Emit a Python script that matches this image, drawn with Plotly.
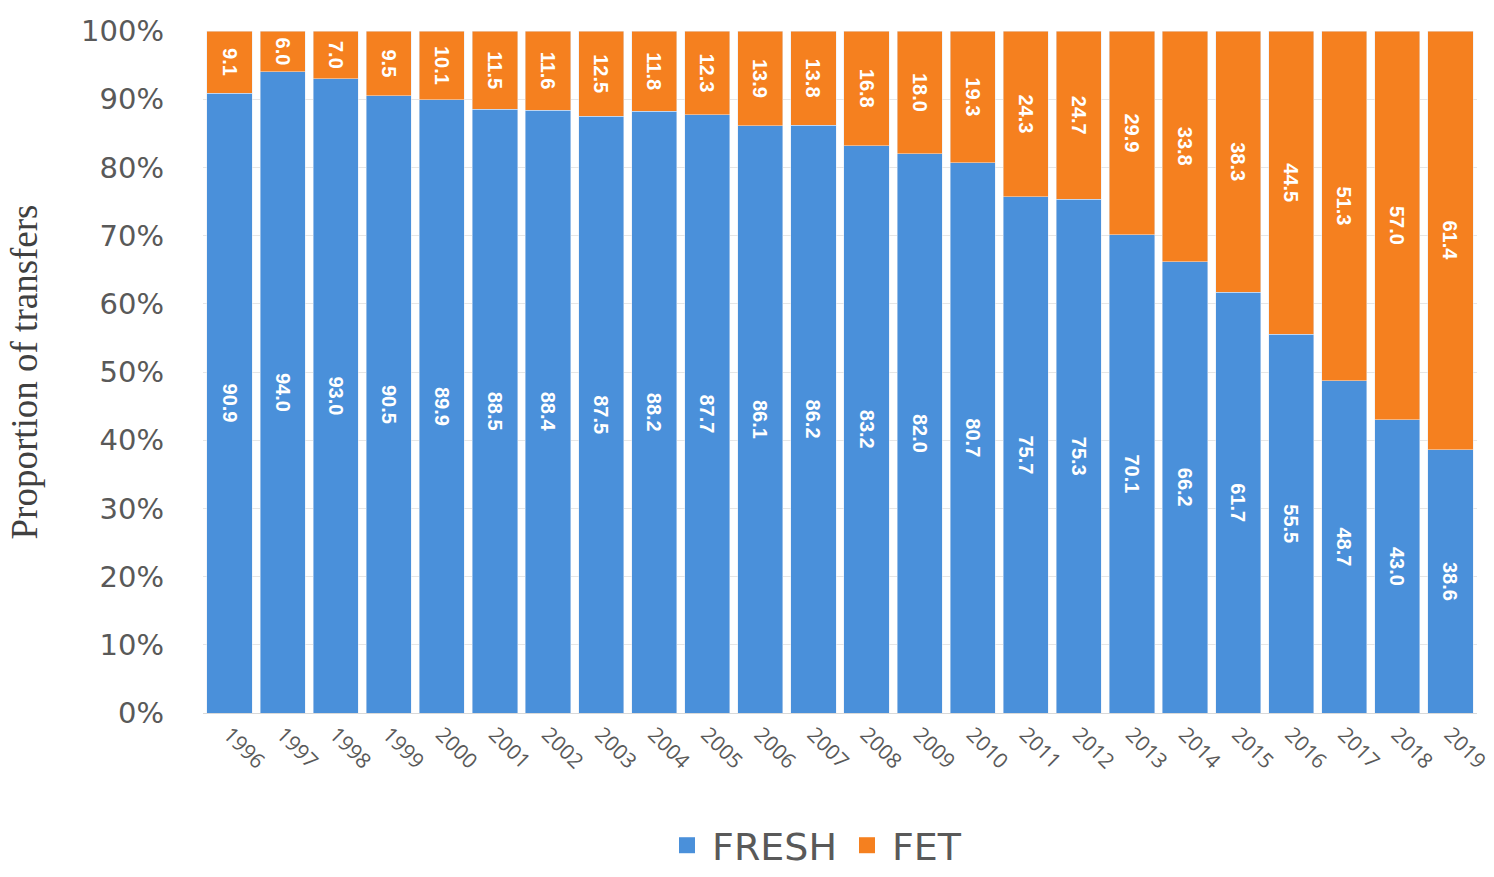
import plotly.graph_objects as go

years = [str(y) for y in range(1996, 2020)]
fresh = [90.9, 94.0, 93.0, 90.5, 89.9, 88.5, 88.4, 87.5, 88.2, 87.7, 86.1, 86.2,
         83.2, 82.0, 80.7, 75.7, 75.3, 70.1, 66.2, 61.7, 55.5, 48.7, 43.0, 38.6]
fet = [9.1, 6.0, 7.0, 9.5, 10.1, 11.5, 11.6, 12.5, 11.8, 12.3, 13.9, 13.8,
       16.8, 18.0, 19.3, 24.3, 24.7, 29.9, 33.8, 38.3, 44.5, 51.3, 57.0, 61.4]
tick_vals = [0, 10, 20, 30, 40, 50, 60, 70, 80, 90, 100]
tick_text = [f"{v}%" for v in tick_vals]

BLUE = "#4A90DA"
ORANGE = "#F5801F"
label_font = dict(family="Liberation Sans Narrow, Liberation Sans, Arial", size=20, color="white")

fig = go.Figure()
fig.add_trace(go.Bar(
    x=years, y=fresh, name="FRESH", marker_color=BLUE, showlegend=False,
    text=[f"<b>{v:.1f}</b>" for v in fresh], textposition="inside",
    insidetextanchor="middle", textangle=90, textfont=label_font,
))
fig.add_trace(go.Bar(
    x=years, y=fet, name="FET", marker_color=ORANGE, showlegend=False,
    text=[f"<b>{v:.1f}</b>" for v in fet], textposition="inside",
    insidetextanchor="middle", textangle=90, textfont=label_font,
))
# legend entries with square swatches
for nm, col in [("FRESH", BLUE), ("FET", ORANGE)]:
    fig.add_trace(go.Scatter(
        x=[None], y=[None], mode="markers", name=nm,
        marker=dict(symbol="square", size=32, color=col),
    ))

fig.update_layout(
    barmode="stack",
    bargap=0.15,
    width=1494, height=877,
    margin=dict(l=203, r=17, t=31, b=164, autoexpand=False),
    paper_bgcolor="white",
    plot_bgcolor="white",
    legend=dict(
        orientation="h", traceorder="normal",
        x=0.48, xanchor="center", y=-0.2405, yanchor="bottom",
        font=dict(family="DejaVu Sans, Open Sans", size=38, color="#595959"),
        itemwidth=40,
    ),
    xaxis=dict(
        automargin=False,
        tickangle=45,
        tickfont=dict(family="Open Sans, Liberation Sans", size=21, color="#595959"),
        showline=True, linecolor="#D9D9D9",
        ticks="",
    ),
    yaxis=dict(
        automargin=False,
        range=[0, 100],
        tickvals=tick_vals, ticktext=tick_text,
        tickfont=dict(family="DejaVu Sans, Open Sans", size=29, color="#595959"),
        showgrid=True, gridcolor="#E6E6E6",
        zeroline=False,
        ticklabelstandoff=38,
        title=dict(text="Proportion of transfers",
                   font=dict(family="Liberation Serif, DejaVu Serif", size=37, color="#404040"),
                   standoff=32),
    ),
)

fig.write_html(
    "out.html",
    config={"displayModeBar": False},
    post_script="document.body.style.margin='0';document.body.style.overflow='hidden';",
)
